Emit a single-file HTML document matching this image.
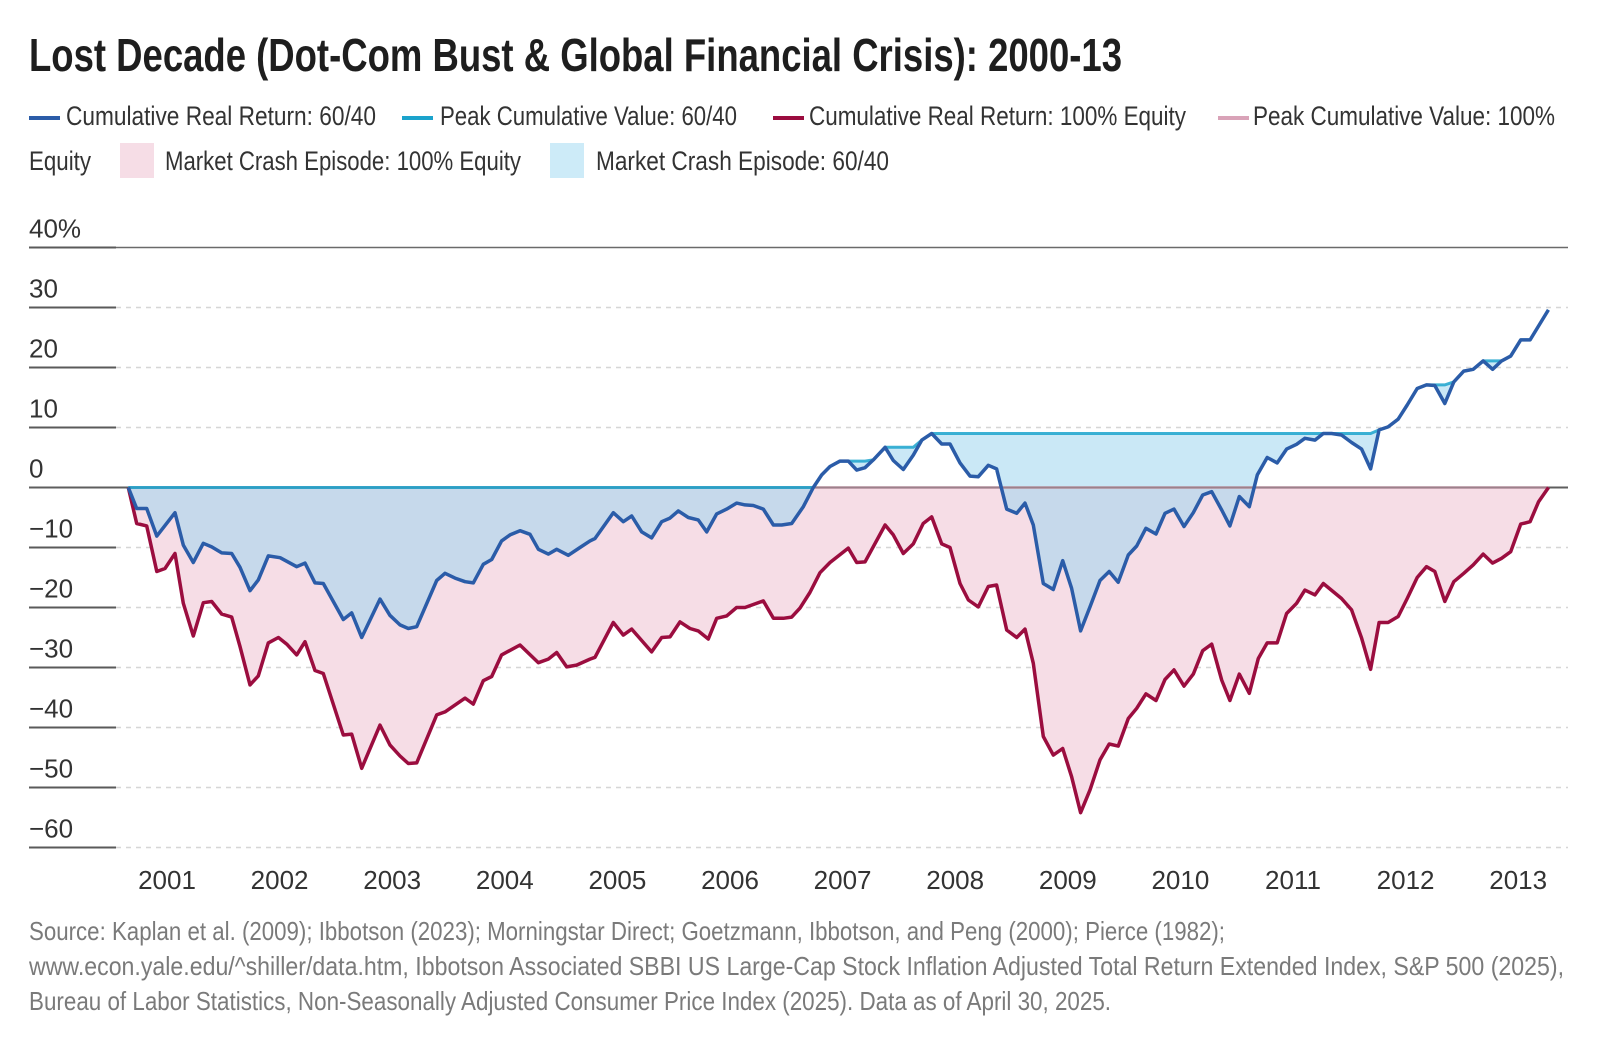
<!DOCTYPE html>
<html><head><meta charset="utf-8">
<style>
html,body{margin:0;padding:0;background:#fff;}
svg{display:block;font-family:"Liberation Sans Narrow","Liberation Sans",sans-serif;}
</style></head>
<body>
<svg id="chart" width="1608" height="1044" viewBox="0 0 1608 1044" xmlns="http://www.w3.org/2000/svg">
<rect width="1608" height="1044" fill="#fff"/>
<text x="29" y="71" font-size="46" font-weight="bold" fill="#1e1e1e" textLength="1093" lengthAdjust="spacingAndGlyphs">Lost Decade (Dot-Com Bust &amp; Global Financial Crisis): 2000-13</text>
<g font-size="27" fill="#333">
<g><rect x="29" y="116" width="31" height="4" fill="#2b5ca8"/><text x="66" y="125" textLength="310" lengthAdjust="spacingAndGlyphs">Cumulative Real Return: 60/40</text></g>
<g><rect x="402" y="116" width="31" height="4" fill="#1ba3cc"/><text x="440" y="125" textLength="297" lengthAdjust="spacingAndGlyphs">Peak Cumulative Value: 60/40</text></g>
<g><rect x="773" y="116" width="31" height="4" fill="#9b0d3f"/><text x="809" y="125" textLength="377" lengthAdjust="spacingAndGlyphs">Cumulative Real Return: 100% Equity</text></g>
<g><rect x="1218" y="116" width="31" height="4" fill="#d9a3b8"/><text x="1253" y="125" textLength="302" lengthAdjust="spacingAndGlyphs">Peak Cumulative Value:  100%</text><text x="29" y="170" textLength="62" lengthAdjust="spacingAndGlyphs">Equity</text></g>
<g><rect x="120" y="143" width="34" height="35" fill="#f6dde6"/><text x="165" y="170" textLength="356" lengthAdjust="spacingAndGlyphs">Market Crash Episode: 100% Equity</text></g>
<g><rect x="550" y="143" width="34" height="35" fill="#cdebf8"/><text x="596" y="170" textLength="293" lengthAdjust="spacingAndGlyphs">Market Crash Episode: 60/40</text></g>
</g>
<g id="grid"></g>
<g id="areas"></g>
<g id="lines"></g>
<g id="xaxis" font-size="26" fill="#333"></g>
<g font-size="26" fill="#7a7a7a">
<text x="29" y="940" textLength="1196" lengthAdjust="spacingAndGlyphs">Source: Kaplan et al. (2009); Ibbotson (2023); Morningstar Direct; Goetzmann, Ibbotson, and Peng (2000); Pierce (1982);</text>
<text x="29" y="975" textLength="1535" lengthAdjust="spacingAndGlyphs">www.econ.yale.edu/^shiller/data.htm, Ibbotson Associated SBBI US Large-Cap Stock Inflation Adjusted Total Return Extended Index, S&amp;P 500 (2025),</text>
<text x="29" y="1010" textLength="1082" lengthAdjust="spacingAndGlyphs">Bureau of Labor Statistics, Non-Seasonally Adjusted Consumer Price Index (2025). Data as of April 30, 2025.</text>
</g>
</svg>
<script>
const yTicks = [40, 30, 20, 10, 0, -10, -20, -30, -40, -50, -60];
const yTickLabels = ["40%", "30", "20", "10", "0", "\u221210", "\u221220", "\u221230", "\u221240", "\u221250", "\u221260"];
const xYears = [2001, 2002, 2003, 2004, 2005, 2006, 2007, 2008, 2009, 2010, 2011, 2012, 2013];
const dates6040 = [2000.656,2000.731,2000.820,2000.909,2001.071,2001.145,2001.234,2001.322,2001.397,2001.486,2001.575,2001.648,2001.737,2001.811,2001.900,2002.004,2002.152,2002.226,2002.314,2002.388,2002.566,2002.640,2002.729,2002.892,2002.980,2003.069,2003.143,2003.218,2003.395,2003.469,2003.558,2003.647,2003.720,2003.809,2003.884,2003.972,2004.046,2004.135,2004.224,2004.298,2004.386,2004.461,2004.564,2004.668,2004.757,2004.801,2004.964,2005.052,2005.127,2005.216,2005.304,2005.393,2005.467,2005.541,2005.630,2005.718,2005.793,2005.882,2005.971,2006.059,2006.133,2006.207,2006.296,2006.385,2006.459,2006.548,2006.651,2006.740,2006.814,2006.888,2006.977,2007.051,2007.125,2007.199,2007.273,2007.377,2007.450,2007.539,2007.628,2007.703,2007.791,2007.880,2007.954,2008.043,2008.131,2008.205,2008.294,2008.368,2008.457,2008.546,2008.620,2008.694,2008.782,2008.871,2008.955,2009.034,2009.114,2009.197,2009.286,2009.368,2009.448,2009.537,2009.612,2009.694,2009.783,2009.863,2009.943,2010.032,2010.115,2010.198,2010.278,2010.367,2010.440,2010.523,2010.612,2010.683,2010.771,2010.860,2010.943,2011.032,2011.106,2011.195,2011.269,2011.343,2011.431,2011.520,2011.609,2011.689,2011.765,2011.845,2011.934,2012.014,2012.103,2012.186,2012.259,2012.348,2012.428,2012.517,2012.600,2012.689,2012.773,2012.853,2012.933,2013.022,2013.106,2013.268];
const values6040 = [0,-3.5,-3.5,-8.1,-4.2,-9.6,-12.5,-9.3,-9.9,-10.9,-11.0,-13.3,-17.2,-15.4,-11.4,-11.7,-13.2,-12.6,-15.9,-16.0,-22.0,-20.9,-25.0,-18.6,-21.3,-22.9,-23.5,-23.2,-15.5,-14.3,-15.1,-15.7,-15.9,-12.8,-12.0,-8.9,-7.9,-7.2,-7.8,-10.3,-11.1,-10.3,-11.3,-10.0,-8.9,-8.5,-4.2,-5.7,-4.75,-7.4,-8.4,-5.7,-5.1,-3.9,-5.0,-5.4,-7.4,-4.4,-3.6,-2.6,-2.9,-3.0,-3.6,-6.25,-6.25,-6.0,-3.2,0.0,2.1,3.5,4.4,4.4,2.9,3.3,4.6,6.7,4.5,3.0,5.4,7.9,9.0,7.25,7.25,4.1,1.9,1.8,3.7,3.1,-3.6,-4.3,-2.6,-6.25,-16.0,-17.0,-12.2,-16.8,-23.9,-19.9,-15.5,-14.0,-15.8,-11.25,-9.75,-6.8,-7.75,-4.3,-3.6,-6.5,-4.2,-1.25,-0.7,-3.75,-6.4,-1.5,-3.2,2.1,5.0,4.1,6.4,7.2,8.2,7.9,9.0,9.0,8.75,7.5,6.4,3.1,9.6,10.1,11.4,13.75,16.5,17.1,17.0,14.0,17.6,19.4,19.7,21.1,19.7,21.1,21.9,24.6,24.6,29.6];
const datesEquity = [2000.656,2000.731,2000.820,2000.909,2000.982,2001.071,2001.145,2001.234,2001.322,2001.397,2001.486,2001.575,2001.648,2001.737,2001.811,2001.900,2001.989,2002.063,2002.152,2002.226,2002.314,2002.388,2002.566,2002.640,2002.729,2002.892,2002.980,2003.069,2003.143,2003.218,2003.395,2003.469,2003.647,2003.720,2003.809,2003.884,2003.972,2004.135,2004.298,2004.386,2004.461,2004.550,2004.638,2004.757,2004.801,2004.964,2005.052,2005.127,2005.304,2005.393,2005.467,2005.556,2005.645,2005.718,2005.807,2005.882,2005.971,2006.059,2006.133,2006.296,2006.385,2006.473,2006.548,2006.622,2006.710,2006.799,2006.888,2007.051,2007.125,2007.199,2007.377,2007.450,2007.539,2007.628,2007.716,2007.791,2007.880,2007.954,2008.043,2008.117,2008.205,2008.294,2008.368,2008.457,2008.546,2008.620,2008.694,2008.782,2008.871,2008.955,2009.034,2009.114,2009.197,2009.286,2009.368,2009.448,2009.537,2009.612,2009.694,2009.783,2009.863,2009.943,2010.032,2010.115,2010.198,2010.278,2010.367,2010.440,2010.523,2010.612,2010.692,2010.771,2010.860,2010.943,2011.032,2011.106,2011.195,2011.269,2011.431,2011.520,2011.609,2011.689,2011.765,2011.845,2011.934,2012.014,2012.103,2012.186,2012.259,2012.348,2012.428,2012.517,2012.600,2012.689,2012.773,2012.853,2012.933,2013.022,2013.106,2013.180,2013.269];
const valuesEquity = [0,-6.0,-6.4,-14.0,-13.5,-11.0,-19.3,-24.75,-19.2,-19.0,-21.1,-21.6,-26.5,-32.9,-31.4,-25.9,-25.0,-26.1,-27.9,-25.7,-30.5,-31.0,-41.25,-41.1,-46.8,-39.6,-42.9,-44.75,-46.0,-45.9,-37.9,-37.4,-35.1,-36.1,-32.2,-31.5,-27.9,-26.25,-29.2,-28.6,-27.5,-29.9,-29.6,-28.6,-28.3,-22.5,-24.6,-23.6,-27.4,-25.0,-24.9,-22.4,-23.5,-23.9,-25.25,-21.8,-21.4,-20.0,-20.0,-18.9,-21.8,-21.8,-21.6,-20.1,-17.5,-14.2,-12.5,-10.1,-12.5,-12.4,-6.25,-7.9,-11.0,-9.4,-6.0,-4.9,-9.4,-10.0,-16.0,-18.75,-19.9,-16.5,-16.25,-23.75,-25.0,-23.6,-29.3,-41.5,-44.6,-43.5,-48.2,-54.2,-50.4,-45.4,-42.75,-43.1,-38.5,-36.8,-34.4,-35.5,-32.0,-30.4,-33.1,-31.1,-27.2,-26.1,-32.1,-35.5,-31.1,-34.3,-28.5,-25.9,-25.9,-21.0,-19.3,-17.1,-17.9,-16.0,-18.5,-20.4,-25.1,-30.3,-22.5,-22.5,-21.5,-18.5,-15.0,-13.2,-14.0,-19.0,-15.7,-14.3,-12.9,-11.1,-12.6,-11.8,-10.7,-6.1,-5.7,-2.4,0];

const NS = "http://www.w3.org/2000/svg";
function xs(d){ return 167 + (d - 2001) * 112.6; }
function ys(v){ return 487.5 - v * 6; }
function mk(tag, attrs, parent){ const e = document.createElementNS(NS, tag); for (const k in attrs) e.setAttribute(k, attrs[k]); parent.appendChild(e); return e; }
function runningMax(vals){ let m = 0; return vals.map(v => (m = Math.max(m, v))); }
const peak6040 = runningMax(values6040);
const peakEquity = runningMax(valuesEquity);

const grid = document.getElementById('grid');
yTicks.forEach((t, i) => {
  const y = ys(t);
  if (t === 40) {
    const l = mk('line', {x1:29, x2:1568, y1:y, y2:y, stroke:'#6a6a6a', 'stroke-width':1.5}, grid);
    
    
  } else if (t !== 0) {
    const l = mk('line', {x1:116, x2:1568, y1:y, y2:y, stroke:'#d6d6d6', 'stroke-width':1.5, 'stroke-dasharray':'5 5'}, grid);
    
    
  }
  const tk = mk('line', {x1:29, x2:116, y1:y, y2:y, stroke:'#5a5a5a', 'stroke-width':2}, grid);
  
  
  const tx = mk('text', {x:29, y:y - 10, 'font-size':26, fill:'#333'}, grid);
  tx.textContent = yTickLabels[i];
  
  
});

const areas = document.getElementById('areas');
function areaPath(dates, vals, base){
  let d = 'M' + dates.map((t, i) => xs(t).toFixed(1) + ',' + ys(vals[i]).toFixed(1)).join('L');
  for (let i = dates.length - 1; i >= 0; i--) d += 'L' + xs(dates[i]).toFixed(1) + ',' + ys(base[i]).toFixed(1);
  return d + 'Z';
}
const pa = mk('path', {d: areaPath(datesEquity, valuesEquity, peakEquity), fill:'#f6dde6'}, areas);


const ba = mk('path', {d: areaPath(dates6040, values6040, peak6040), fill:'#9fd6ef', 'fill-opacity':0.55}, areas);



const lines = document.getElementById('lines');
const zl = mk('line', {x1:29, x2:1568, y1:ys(0), y2:ys(0), stroke:'#5e5e5e', 'stroke-width':2}, lines);


function linePath(dates, vals){ return 'M' + dates.map((t, i) => xs(t).toFixed(1) + ',' + ys(vals[i]).toFixed(1)).join('L'); }
const pe = mk('path', {d: linePath(datesEquity, peakEquity), fill:'none', stroke:'#d9a3b8', 'stroke-width':3, 'stroke-opacity':0.5}, lines);


const pb = mk('path', {d: linePath(dates6040, peak6040), fill:'none', stroke:'#1ba3cc', 'stroke-width':3, 'stroke-opacity':0.85}, lines);


const le = mk('path', {d: linePath(datesEquity, valuesEquity), fill:'none', stroke:'#9b0d3f', 'stroke-width':3.5, 'stroke-linejoin':'round'}, lines);


const lb = mk('path', {d: linePath(dates6040, values6040), fill:'none', stroke:'#2b5ca8', 'stroke-width':3.5, 'stroke-linejoin':'round'}, lines);



const xaxis = document.getElementById('xaxis');
xYears.forEach(yr => {
  const t = mk('text', {x: xs(yr), y: 889, 'text-anchor':'middle'}, xaxis);
  t.textContent = String(yr);
  
  
});
</script>
</body></html>
